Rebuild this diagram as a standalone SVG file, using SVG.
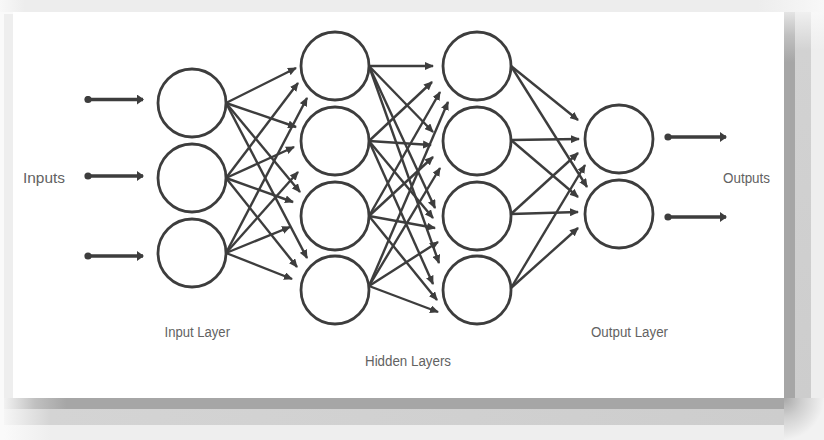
<svg xmlns="http://www.w3.org/2000/svg" width="824" height="440" viewBox="0 0 824 440">
  <defs>
    <style>
      .neuron { fill: #ffffff; stroke: #3d3d3d; stroke-width: 2.8; }
      .edge { stroke: #3d3d3d; stroke-width: 2.4; fill: none; marker-end: url(#head); }
      .io { stroke: #3d3d3d; stroke-width: 3.4; fill: none; marker-start: url(#dot); marker-end: url(#bighead); }
      .label { font-family: "Liberation Sans", Arial, sans-serif; font-size: 14px; fill: #626262; }
    </style>
    <marker id="head" viewBox="0 0 9 8" refX="8" refY="4" markerWidth="9" markerHeight="8" markerUnits="userSpaceOnUse" orient="auto">
      <path d="M0,0 L9,4 L0,8 z" fill="#3d3d3d"/>
    </marker>
    <marker id="bighead" viewBox="0 0 7 10" refX="6" refY="5" markerWidth="7" markerHeight="10" markerUnits="userSpaceOnUse" orient="auto">
      <path d="M0,0 L7,5 L0,10 z" fill="#3d3d3d"/>
    </marker>
    <marker id="dot" viewBox="0 0 8 8" refX="4" refY="4" markerWidth="8" markerHeight="8" markerUnits="userSpaceOnUse" orient="auto">
      <circle cx="4" cy="4" r="3.6" fill="#3d3d3d"/>
    </marker>
    <linearGradient id="topBand" x1="0" y1="0" x2="1" y2="0">
      <stop offset="0" stop-color="#f8f8f8"/>
      <stop offset="0.03" stop-color="#ededed"/>
      <stop offset="0.92" stop-color="#ededed"/>
      <stop offset="1" stop-color="#f8f8f8"/>
    </linearGradient>
    <linearGradient id="rs1" x1="0" y1="0" x2="0" y2="1">
      <stop offset="0" stop-color="#e4e4e4"/>
      <stop offset="0.06" stop-color="#c0c0c0"/>
      <stop offset="0.13" stop-color="#a6a6a6"/>
      <stop offset="1" stop-color="#a6a6a6"/>
    </linearGradient>
    <linearGradient id="rs2" x1="0" y1="0" x2="0" y2="1">
      <stop offset="0" stop-color="#f0f0f0"/>
      <stop offset="0.1" stop-color="#d2d2d2"/>
      <stop offset="1" stop-color="#cdcdcd"/>
    </linearGradient>
    <linearGradient id="rs3" x1="0" y1="0" x2="0" y2="1">
      <stop offset="0" stop-color="#f8f8f8"/>
      <stop offset="0.1" stop-color="#eeeeee"/>
      <stop offset="1" stop-color="#eeeeee"/>
    </linearGradient>
    <linearGradient id="bs1" x1="0" y1="0" x2="1" y2="0">
      <stop offset="0" stop-color="#f2f2f2"/>
      <stop offset="0.04" stop-color="#c0c0c0"/>
      <stop offset="0.08" stop-color="#a6a6a6"/>
      <stop offset="1" stop-color="#a6a6a6"/>
    </linearGradient>
    <linearGradient id="bs2" x1="0" y1="0" x2="1" y2="0">
      <stop offset="0" stop-color="#f6f6f6"/>
      <stop offset="0.06" stop-color="#d4d4d4"/>
      <stop offset="1" stop-color="#cdcdcd"/>
    </linearGradient>
    <linearGradient id="bs3" x1="0" y1="0" x2="1" y2="0">
      <stop offset="0" stop-color="#fafafa"/>
      <stop offset="0.06" stop-color="#eeeeee"/>
      <stop offset="1" stop-color="#eeeeee"/>
    </linearGradient>
    <radialGradient id="corner" cx="0" cy="0" r="1">
      <stop offset="0" stop-color="#a8a8a8"/>
      <stop offset="0.45" stop-color="#cfcfcf"/>
      <stop offset="1" stop-color="#f2f2f2"/>
    </radialGradient>
  </defs>

  <!-- page background and card shadow -->
  <rect width="824" height="440" fill="#fafafa"/>
  <rect x="0" y="0" width="824" height="12" fill="url(#topBand)"/>
  <rect x="4" y="14" width="9" height="384" fill="#eeeeee"/>
  <rect x="784" y="12" width="11" height="386" fill="url(#rs1)"/>
  <rect x="795" y="12" width="16" height="386" fill="url(#rs2)"/>
  <rect x="811" y="12" width="13" height="386" fill="url(#rs3)"/>
  <rect x="4" y="398" width="780" height="11" fill="url(#bs1)"/>
  <rect x="4" y="409" width="780" height="16" fill="url(#bs2)"/>
  <rect x="4" y="425" width="780" height="15" fill="url(#bs3)"/>
  <rect x="784" y="398" width="40" height="42" fill="url(#corner)"/>

  <!-- card -->
  <rect x="13" y="12" width="771" height="386" fill="#ffffff"/>

  <!-- connectors -->
  <g id="connectors">
    <!-- inputs in / outputs out -->
    <line class="io" x1="88" y1="99.5" x2="143" y2="99.5"/>
    <line class="io" x1="88" y1="176" x2="143" y2="176"/>
    <line class="io" x1="88" y1="256" x2="143" y2="256"/>
    <line class="io" x1="668" y1="137" x2="726" y2="137"/>
    <line class="io" x1="668" y1="217" x2="726" y2="217"/>

    <!-- input layer to hidden layer 1 -->
    <line class="edge" x1="226" y1="103" x2="296" y2="68"/>
    <line class="edge" x1="226" y1="103" x2="296" y2="127"/>
    <line class="edge" x1="226" y1="103" x2="300" y2="192"/>
    <line class="edge" x1="226" y1="103" x2="307" y2="258"/>
    <line class="edge" x1="226" y1="178" x2="298" y2="83"/>
    <line class="edge" x1="226" y1="178" x2="294" y2="147"/>
    <line class="edge" x1="226" y1="178" x2="293" y2="202"/>
    <line class="edge" x1="226" y1="178" x2="297" y2="267"/>
    <line class="edge" x1="226" y1="253" x2="307" y2="98"/>
    <line class="edge" x1="226" y1="253" x2="298" y2="172"/>
    <line class="edge" x1="226" y1="253" x2="290" y2="227"/>
    <line class="edge" x1="226" y1="253" x2="292" y2="279"/>

    <!-- hidden layer 1 to hidden layer 2 -->
    <line class="edge" x1="369" y1="66" x2="433" y2="66"/>
    <line class="edge" x1="369" y1="66" x2="433" y2="132"/>
    <line class="edge" x1="369" y1="66" x2="435" y2="208"/>
    <line class="edge" x1="369" y1="66" x2="439" y2="263"/>
    <line class="edge" x1="369" y1="141" x2="432" y2="82"/>
    <line class="edge" x1="369" y1="141" x2="431" y2="145"/>
    <line class="edge" x1="369" y1="141" x2="433" y2="218"/>
    <line class="edge" x1="369" y1="141" x2="433" y2="284"/>
    <line class="edge" x1="369" y1="216" x2="440" y2="92"/>
    <line class="edge" x1="369" y1="216" x2="433" y2="157"/>
    <line class="edge" x1="369" y1="216" x2="435" y2="228"/>
    <line class="edge" x1="369" y1="216" x2="437" y2="300"/>
    <line class="edge" x1="369" y1="286" x2="448" y2="102"/>
    <line class="edge" x1="369" y1="286" x2="440" y2="168"/>
    <line class="edge" x1="369" y1="286" x2="438" y2="242"/>
    <line class="edge" x1="369" y1="286" x2="438" y2="312"/>

    <!-- hidden layer 2 to output layer -->
    <line class="edge" x1="511" y1="66" x2="578" y2="120"/>
    <line class="edge" x1="511" y1="66" x2="587" y2="187"/>
    <line class="edge" x1="511" y1="140" x2="579" y2="139"/>
    <line class="edge" x1="511" y1="140" x2="578" y2="197"/>
    <line class="edge" x1="511" y1="214" x2="578" y2="153"/>
    <line class="edge" x1="511" y1="214" x2="578" y2="212"/>
    <line class="edge" x1="511" y1="288" x2="585" y2="165"/>
    <line class="edge" x1="511" y1="288" x2="578" y2="228"/>
  </g>

  <!-- input layer -->
  <g id="input-1"><circle class="neuron" cx="192" cy="103" r="34"/></g>
  <g id="input-2"><circle class="neuron" cx="192" cy="178" r="34"/></g>
  <g id="input-3"><circle class="neuron" cx="192" cy="253" r="34"/></g>

  <!-- hidden layer 1 -->
  <g id="hidden1-1"><circle class="neuron" cx="335" cy="66" r="34"/></g>
  <g id="hidden1-2"><circle class="neuron" cx="335" cy="141" r="34"/></g>
  <g id="hidden1-3"><circle class="neuron" cx="335" cy="216" r="34"/></g>
  <g id="hidden1-4"><circle class="neuron" cx="335" cy="290" r="34"/></g>

  <!-- hidden layer 2 -->
  <g id="hidden2-1"><circle class="neuron" cx="477" cy="66" r="34"/></g>
  <g id="hidden2-2"><circle class="neuron" cx="477" cy="141" r="34"/></g>
  <g id="hidden2-3"><circle class="neuron" cx="477" cy="216" r="34"/></g>
  <g id="hidden2-4"><circle class="neuron" cx="477" cy="290" r="34"/></g>

  <!-- output layer -->
  <g id="output-1"><circle class="neuron" cx="619" cy="139" r="34"/></g>
  <g id="output-2"><circle class="neuron" cx="619" cy="214" r="34"/></g>

  <!-- labels -->
  <g id="labels">
    <text class="label" x="23" y="183" textLength="42" lengthAdjust="spacingAndGlyphs">Inputs</text>
    <text class="label" x="164.5" y="336.5" textLength="65.5" lengthAdjust="spacingAndGlyphs">Input Layer</text>
    <text class="label" x="365" y="365.5" textLength="86" lengthAdjust="spacingAndGlyphs">Hidden Layers</text>
    <text class="label" x="591" y="336.5" textLength="77" lengthAdjust="spacingAndGlyphs">Output Layer</text>
    <text class="label" x="723" y="183" textLength="47" lengthAdjust="spacingAndGlyphs">Outputs</text>
  </g>
</svg>
